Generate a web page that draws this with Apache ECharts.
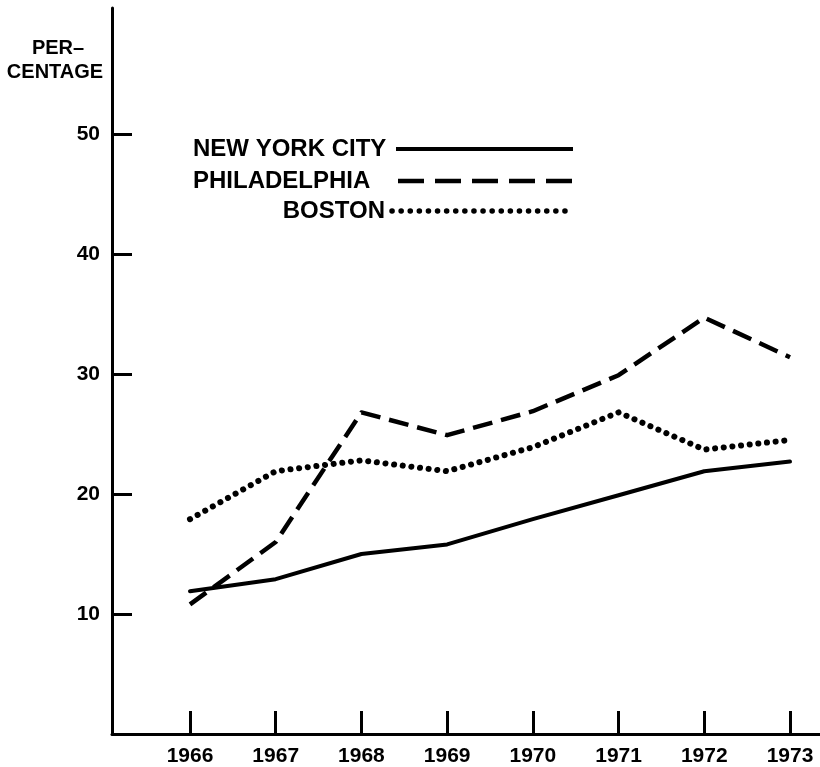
<!DOCTYPE html>
<html>
<head>
<meta charset="utf-8">
<script src="https://cdn.jsdelivr.net/npm/echarts@6/dist/echarts.min.js"></script>
<style>
html,body{margin:0;padding:0;background:#fff;}
#chart{width:820px;height:767px;}
</style>
</head>
<body>
<div id="chart"></div>
<script>
const years = [1966, 1967, 1968, 1969, 1970, 1971, 1972, 1973];
const newYork = [11.9, 12.9, 15.0, 15.8, 17.9, 19.9, 21.9, 22.7];
const philadelphia = [10.8, 16.0, 26.8, 24.9, 26.9, 29.9, 34.7, 31.4];
const boston = [17.9, 21.9, 22.8, 21.9, 23.9, 26.8, 23.7, 24.5];
const yTicks = [10, 20, 30, 40, 50];
const seriesNames = ['NEW YORK CITY', 'PHILADELPHIA', 'BOSTON'];

const FONT = '"Liberation Sans", Arial, sans-serif';
const pair = arr => years.map((y, i) => [y, arr[i]]);

const chart = echarts.init(document.getElementById('chart'), null, {renderer: 'canvas'});
chart.setOption({
  animation: false,
  backgroundColor: '#fff',
  grid: {left: 112, right: 0, top: 8, bottom: 33},
  xAxis: {
    type: 'value',
    min: 1965.09,
    max: 1973.35,
    splitLine: {show: false},
    axisLine: {show: true, lineStyle: {color: '#000', width: 3}},
    axisTick: {show: true, inside: true, length: 23, lineStyle: {color: '#000', width: 3}, customValues: years},
    axisLabel: {show: true, margin: 12, color: '#000', fontFamily: FONT, fontWeight: 'bold', fontSize: 21, customValues: years, formatter: v => String(v)}
  },
  yAxis: {
    type: 'value',
    min: 0,
    max: 60.5,
    splitLine: {show: false},
    axisLine: {show: true, lineStyle: {color: '#000', width: 3}},
    axisTick: {show: true, inside: true, length: 20, lineStyle: {color: '#000', width: 3}, customValues: yTicks},
    axisLabel: {show: true, margin: 12, color: '#000', fontFamily: FONT, fontWeight: 'bold', fontSize: 21, customValues: yTicks}
  },
  series: [
    {name: seriesNames[0], type: 'line', data: pair(newYork), symbol: 'none',
     lineStyle: {color: '#000', width: 4, type: 'solid', cap: 'round', join: 'round'}},
    {name: seriesNames[1], type: 'line', data: pair(philadelphia), symbol: 'none',
     lineStyle: {color: '#000', width: 4.5, type: [20, 9], cap: 'butt', join: 'round'}},
    {name: seriesNames[2], type: 'line', data: pair(boston), symbol: 'none',
     lineStyle: {color: '#000', width: 6, type: [0.1, 8.6], cap: 'round', join: 'round'}}
  ],
  graphic: [
    {type: 'text', x: 58, y: 38, style: {text: 'PER–', fontFamily: FONT, fontWeight: 'bold', fontSize: 20, fill: '#000', align: 'center', verticalAlign: 'top'}},
    {type: 'text', x: 55, y: 62, style: {text: 'CENTAGE', fontFamily: FONT, fontWeight: 'bold', fontSize: 20, fill: '#000', align: 'center', verticalAlign: 'top'}},
    {type: 'text', x: 193, y: 149, style: {text: seriesNames[0], fontFamily: FONT, fontWeight: 'bold', fontSize: 24, fill: '#000', align: 'left', verticalAlign: 'middle'}},
    {type: 'line', shape: {x1: 396, y1: 149, x2: 573, y2: 149}, style: {stroke: '#000', lineWidth: 4}},
    {type: 'text', x: 193, y: 181, style: {text: seriesNames[1], fontFamily: FONT, fontWeight: 'bold', fontSize: 24, fill: '#000', align: 'left', verticalAlign: 'middle'}},
    {type: 'line', shape: {x1: 398, y1: 181, x2: 573, y2: 181}, style: {stroke: '#000', lineWidth: 4.5, lineDash: [26, 11]}},
    {type: 'text', x: 385, y: 211, style: {text: seriesNames[2], fontFamily: FONT, fontWeight: 'bold', fontSize: 24, fill: '#000', align: 'right', verticalAlign: 'middle'}},
    {type: 'line', shape: {x1: 392, y1: 211, x2: 573, y2: 211}, style: {stroke: '#000', lineWidth: 5.5, lineDash: [0.1, 9], lineCap: 'round'}}
  ]
});
</script>
</body>
</html>
